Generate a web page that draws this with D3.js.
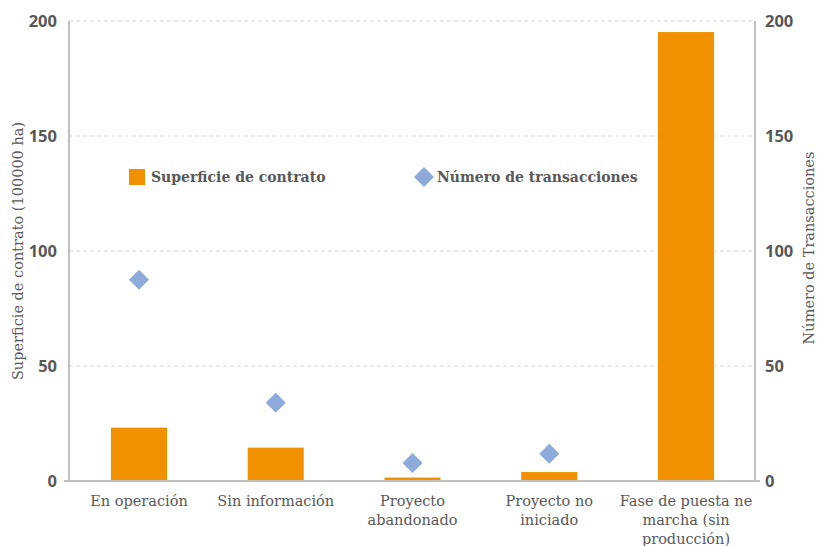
<!DOCTYPE html>
<html>
<head>
<meta charset="utf-8">
<script src="https://cdn.jsdelivr.net/npm/d3@7"></script>
<style>
  body { margin: 0; background: #fff; }
  svg text { fill: #595959; }
</style>
</head>
<body>
<svg id="chart"></svg>
<script>
let categories = [
  ['En operación'],
  ['Sin información'],
  ['Proyecto', 'abandonado'],
  ['Proyecto no', 'iniciado'],
  ['Fase de puesta ne', 'marcha (sin', 'producción)']
]
let superficie = [23.2, 14.5, 1.5, 3.9, 195.2]
let transacciones = [87.5, 34, 7.8, 11.8, null]
let ticks = [0, 50, 100, 150, 200]

let width = 818
let height = 546
let plotLeft = 69
let plotRight = 755
let plotTop = 21
let plotBottom = 481

let svg = d3.select('#chart')
  .attr('width', width)
  .attr('height', height)

let xScale = d3.scaleBand()
  .domain(d3.range(categories.length))
  .range([70.6, 754.4])
  .paddingInner(0.59)
  .paddingOuter(0.295)

let yLeft = d3.scaleLinear().domain([0, 200]).range([plotBottom, plotTop])
let yRight = d3.scaleLinear().domain([0, 200]).range([plotBottom, plotTop])

// gridlines
svg.append('g')
  .selectAll('line')
  .data(ticks.filter(t => t > 0))
  .enter()
  .append('line')
  .attr('x1', plotLeft)
  .attr('x2', plotRight)
  .attr('y1', d => yLeft(d))
  .attr('y2', d => yLeft(d))
  .attr('stroke', '#d9d9d9')
  .attr('stroke-dasharray', '4,3')

// bars
svg.append('g')
  .selectAll('rect')
  .data(superficie)
  .enter()
  .append('rect')
  .attr('x', (d, i) => xScale(i))
  .attr('width', xScale.bandwidth())
  .attr('y', d => yLeft(d))
  .attr('height', d => plotBottom - yLeft(d))
  .attr('fill', '#f29100')

// diamonds
let diamond = d3.symbol().type(d3.symbolSquare).size(200)
svg.append('g')
  .selectAll('path')
  .data(transacciones.map((v, i) => ({v: v, i: i})).filter(d => d.v != null))
  .enter()
  .append('path')
  .attr('d', diamond)
  .attr('transform', d => 'translate(' + (xScale(d.i) + xScale.bandwidth() / 2) + ',' + yRight(d.v) + ') rotate(45)')
  .attr('fill', '#8eaadb')

// axes
let axisColor = '#bfbfbf'
let leftAxis = svg.append('g')
  .attr('transform', 'translate(' + plotLeft + ',0)')
  .call(d3.axisLeft(yLeft).tickValues(ticks).tickSize(0).tickPadding(12))
leftAxis.select('.domain').remove()

let rightAxis = svg.append('g')
  .attr('transform', 'translate(' + plotRight + ',0)')
  .call(d3.axisRight(yRight).tickValues(ticks).tickSize(0).tickPadding(10))
rightAxis.select('.domain').remove()

svg.selectAll('.tick text')
  .attr('font-family', '"Open Sans", sans-serif')
  .attr('font-weight', 'bold')
  .attr('font-size', 16.5)
  .style('fill', '#595959')

svg.append('line')
  .attr('x1', plotLeft).attr('x2', plotLeft).attr('y1', plotTop).attr('y2', plotBottom + 1)
  .attr('stroke', axisColor).attr('stroke-width', 2)
svg.append('line')
  .attr('x1', plotRight).attr('x2', plotRight).attr('y1', plotTop).attr('y2', plotBottom + 1)
  .attr('stroke', axisColor).attr('stroke-width', 2)
svg.append('line')
  .attr('x1', plotLeft - 5).attr('x2', plotRight + 5).attr('y1', plotBottom).attr('y2', plotBottom)
  .attr('stroke', axisColor).attr('stroke-width', 2)

// category labels
let catFont = '"DejaVu Serif", serif'
svg.append('g')
  .selectAll('text')
  .data(categories)
  .enter()
  .append('text')
  .attr('text-anchor', 'middle')
  .attr('font-family', catFont)
  .attr('font-size', 14.5)
  .attr('y', 506)
  .each(function (lines, i) {
    let t = d3.select(this)
    lines.forEach((line, k) => {
      t.append('tspan')
        .attr('x', xScale(i) + xScale.bandwidth() / 2)
        .attr('dy', k === 0 ? 0 : 19)
        .text(line)
    })
  })

// axis titles
svg.append('text')
  .attr('transform', 'translate(23,251) rotate(-90)')
  .attr('text-anchor', 'middle')
  .attr('font-family', catFont)
  .attr('font-size', 14.5)
  .text('Superficie de contrato (100000 ha)')

svg.append('text')
  .attr('transform', 'translate(814,248) rotate(-90)')
  .attr('text-anchor', 'middle')
  .attr('font-family', catFont)
  .attr('font-size', 14.5)
  .text('Número de Transacciones')

// legend
svg.append('rect')
  .attr('x', 129).attr('y', 169).attr('width', 16).attr('height', 16)
  .attr('fill', '#f29100')
svg.append('text')
  .attr('x', 151).attr('y', 182)
  .attr('font-family', catFont)
  .attr('font-weight', 'bold')
  .attr('font-size', 14)
  .text('Superficie de contrato')

svg.append('path')
  .attr('d', diamond)
  .attr('transform', 'translate(424,177) rotate(45)')
  .attr('fill', '#8eaadb')
svg.append('text')
  .attr('x', 437).attr('y', 182)
  .attr('font-family', catFont)
  .attr('font-weight', 'bold')
  .attr('font-size', 14)
  .text('Número de transacciones')
</script>
</body>
</html>
